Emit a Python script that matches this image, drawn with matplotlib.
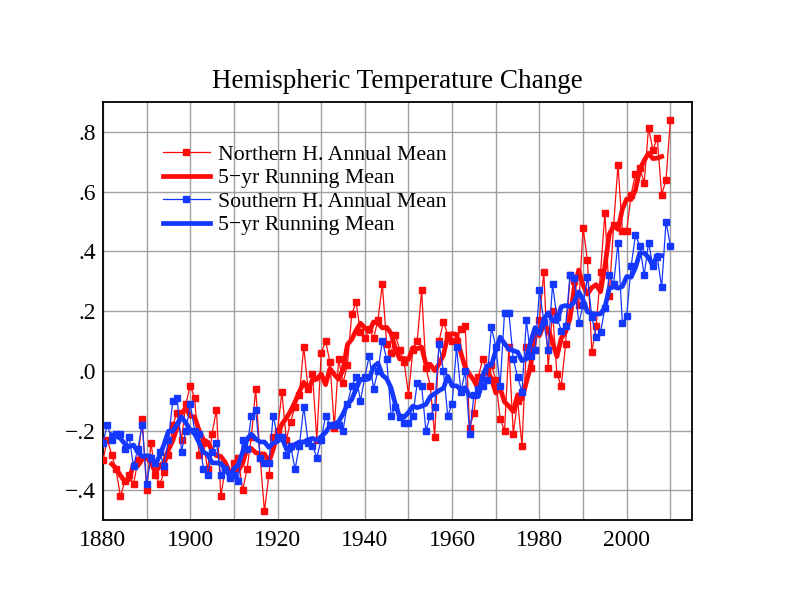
import matplotlib
matplotlib.use("Agg")
import matplotlib.pyplot as plt
import numpy as np
import pandas as pd

years = list(range(1880, 2011))

nh_annual = [
    -0.30, -0.23, -0.28, -0.33, -0.42, -0.37, -0.35, -0.38, -0.30, -0.16,  # 1880s
    -0.40, -0.24, -0.35, -0.38, -0.34, -0.28, -0.18, -0.14, -0.23, -0.11,  # 1890s
    -0.05, -0.09, -0.28, -0.24, -0.33, -0.21, -0.13, -0.42, -0.33, -0.34,  # 1900s
    -0.31, -0.29, -0.40, -0.33, -0.22, -0.06, -0.29, -0.47, -0.35, -0.22,  # 1910s
    -0.20, -0.07, -0.23, -0.17, -0.12, -0.08, 0.08, -0.06, -0.01, -0.23,   # 1920s
    0.06, 0.10, 0.03, -0.19, 0.04, -0.04, 0.02, 0.19, 0.23, 0.13,          # 1930s
    0.11, 0.14, 0.11, 0.17, 0.29, 0.09, 0.06, 0.12, 0.07, 0.03,            # 1940s
    -0.08, 0.07, 0.10, 0.27, 0.01, -0.05, -0.22, 0.10, 0.165, 0.12,        # 1950s
    0.10, 0.10, 0.14, 0.15, -0.19, -0.14, -0.02, 0.04, 0.00, 0.02,         # 1960s
    -0.03, -0.16, -0.20, 0.08, -0.21, -0.10, -0.25, 0.08, 0.01, 0.07,      # 1970s
    0.17, 0.33, 0.01, 0.20, -0.01, -0.05, 0.09, 0.32, 0.30, 0.22,          # 1980s
    0.48, 0.37, 0.065, 0.15, 0.33, 0.53, 0.25, 0.49, 0.69, 0.47,           # 1990s
    0.47, 0.59, 0.66, 0.68, 0.63, 0.815, 0.74, 0.78, 0.59, 0.64,           # 2000s
    0.84,                                                                  # 2010
]

sh_annual = [
    -0.24, -0.18, -0.23, -0.21, -0.21, -0.26, -0.22, -0.32, -0.26, -0.18,  # 1880s
    -0.38, -0.29, -0.31, -0.27, -0.32, -0.23, -0.10, -0.09, -0.27, -0.20,  # 1890s
    -0.11, -0.20, -0.21, -0.33, -0.35, -0.27, -0.24, -0.35, -0.33, -0.36,  # 1900s
    -0.35, -0.37, -0.23, -0.26, -0.15, -0.13, -0.29, -0.31, -0.31, -0.15,  # 1910s
    -0.22, -0.22, -0.28, -0.25, -0.33, -0.25, -0.12, -0.24, -0.25, -0.29,  # 1920s
    -0.23, -0.15, -0.18, -0.18, -0.18, -0.20, -0.11, -0.05, -0.02, -0.10,  # 1930s
    -0.02, 0.05, -0.06, 0.00, 0.10, 0.04, -0.15, -0.12, -0.155, -0.175,    # 1940s
    -0.175, -0.15, -0.04, -0.05, -0.20, -0.15, -0.12, 0.09, 0.00, -0.15,   # 1950s
    -0.11, 0.08, -0.07, 0.00, -0.21, -0.08, -0.06, -0.05, -0.03, 0.146,    # 1960s
    0.08, -0.05, 0.195, 0.195, 0.04, -0.02, -0.07, 0.17, 0.05, 0.07,       # 1970s
    0.27, 0.165, 0.07, 0.29, 0.18, 0.135, 0.15, 0.32, 0.31, 0.16,          # 1980s
    0.22, 0.315, 0.18, 0.115, 0.13, 0.21, 0.32, 0.29, 0.43, 0.16,          # 1990s
    0.185, 0.35, 0.455, 0.42, 0.32, 0.43, 0.35, 0.38, 0.28, 0.50,          # 2000s
    0.42,                                                                  # 2010
]

x_ticks = [1880, 1900, 1920, 1940, 1960, 1980, 2000]
x_tick_labels = ["1880", "1900", "1920", "1940", "1960", "1980", "2000"]
y_ticks = [0.8, 0.6, 0.4, 0.2, 0.0, -0.2, -0.4]
y_tick_labels = [".8", ".6", ".4", ".2", ".0", "\u2212.2", "\u2212.4"]
legend_labels = ["Northern H. Annual Mean", "5\u2212yr Running Mean",
                 "Southern H. Annual Mean", "5\u2212yr Running Mean"]
title = "Hemispheric Temperature Change"

nh_run = pd.Series(nh_annual).rolling(5, center=True).mean()
sh_run = pd.Series(sh_annual).rolling(5, center=True).mean()

RED = "#ff0a0a"
BLUE = "#1438ff"

plt.rcParams['font.family'] = ['Liberation Serif', 'DejaVu Serif']

fig = plt.figure(figsize=(7.92, 6.12), dpi=100)
ax = fig.add_axes([0.130, 0.150, 0.744, 0.683])

ax.plot(years, nh_annual, color=RED, lw=0.9, marker='s', ms=5,
        mec=RED, mfc=RED, label=legend_labels[0], zorder=3)
ax.plot(years, nh_run, color=RED, lw=3.4, label=legend_labels[1], zorder=4)
ax.plot(years, sh_annual, color=BLUE, lw=0.9, marker='s', ms=5,
        mec=BLUE, mfc=BLUE, label=legend_labels[2], zorder=5)
ax.plot(years, sh_run, color=BLUE, lw=3.4, label=legend_labels[3], zorder=6)

ax.set_xlim(1880, 2015)
ax.set_ylim(-0.5, 0.9)
ax.set_xticks(x_ticks)
ax.set_xticklabels(x_tick_labels)
ax.set_xticks(np.arange(1890, 2015, 10), minor=True)
ax.set_yticks(y_ticks)
ax.set_yticklabels(y_tick_labels)
ax.tick_params(which='both', length=0, labelsize=17)
ax.tick_params(axis='x', pad=7)
ax.tick_params(axis='y', pad=5)
ax.grid(True, which='both', color='#a0a0a0', lw=1.0)
ax.set_axisbelow(True)
for s in ax.spines.values():
    s.set_linewidth(1.3)
    s.set_color('black')

ax.set_title(title, fontsize=19.5, pad=10)

leg = ax.legend(loc='upper left', bbox_to_anchor=(0.087, 0.92), frameon=False,
                fontsize=15.7, handlelength=2.15, handletextpad=0.37,
                labelspacing=0.15, borderaxespad=0.0, numpoints=1)

fig.savefig("out.png", dpi=100)
